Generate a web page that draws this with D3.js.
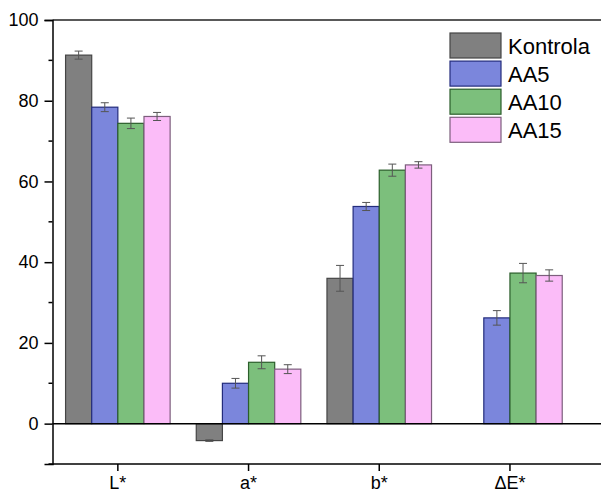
<!DOCTYPE html>
<html>
<head>
<meta charset="utf-8">
<script src="https://cdn.jsdelivr.net/npm/d3@7"></script>
<style>
  html, body { margin: 0; padding: 0; background: #fff; }
  svg { display: block; font-family: "Liberation Sans", Arial, sans-serif; }
</style>
</head>
<body>
<svg id="chart" width="601" height="494"></svg>
<script>
// Colour parameters (L*, a*, b*, ΔE*) for each sample
const categories = ["L*", "a*", "b*", "ΔE*"];
const seriesNames = ["Kontrola", "AA5", "AA10", "AA15"];

// Mean values per series, in category order (null = not measured)
const kontrola = [91.3, -4.2, 36.0, null];
const aa5      = [78.4, 10.0, 53.8, 26.2];
const aa10     = [74.4, 15.2, 62.8, 37.3];
const aa15     = [76.1, 13.5, 64.1, 36.7];

// Standard deviations per series
const kontrolaErr = [1.0, 0.2, 3.2, null];
const aa5Err      = [1.1, 1.2, 1.0, 1.8];
const aa10Err     = [1.3, 1.6, 1.5, 2.4];
const aa15Err     = [1.0, 1.1, 0.8, 1.4];

const yTicks = [0, 20, 40, 60, 80, 100];
const yMinorTicks = [-10, 10, 30, 50, 70, 90];

const fills   = ["#808080", "#7b86dc", "#7cbf7c", "#fbbcf8"];
const strokes = ["#454545", "#232c7c", "#2b5e2b", "#7d5f7d"];

const values = [kontrola, aa5, aa10, aa15];
const errors = [kontrolaErr, aa5Err, aa10Err, aa15Err];

const svg = d3.select("#chart");

const plotLeft = 52.5, plotTop = 20, plotBottom = 464, plotRight = 610;
const step = 130.7;

const x0 = d3.scaleBand().domain(categories)
  .range([plotLeft, plotLeft + step * categories.length]).padding(0);
const x1 = d3.scaleBand().domain(seriesNames)
  .range([0, x0.bandwidth()]).paddingInner(0).paddingOuter(0.5);
const y = d3.scaleLinear().domain([-10, 100]).range([plotBottom, plotTop]);

// Flatten into bar records
const bars = [];
seriesNames.forEach((s, si) => {
  categories.forEach((c, ci) => {
    const v = values[si][ci];
    if (v === null) return;
    bars.push({ s, si, c, v, e: errors[si][ci] });
  });
});

// Bars
svg.append("g").selectAll("rect").data(bars).join("rect")
  .attr("x", d => x0(d.c) + x1(d.s))
  .attr("y", d => y(Math.max(0, d.v)))
  .attr("width", x1.bandwidth())
  .attr("height", d => Math.abs(y(d.v) - y(0)))
  .attr("fill", d => fills[d.si])
  .attr("stroke", d => strokes[d.si])
  .attr("stroke-width", 1.2);

// Error bars
const eg = svg.append("g").attr("stroke", "#555").attr("stroke-width", 1);
bars.forEach(d => {
  const cx = x0(d.c) + x1(d.s) + x1.bandwidth() / 2;
  const y1 = y(d.v + d.e), y2 = y(d.v - d.e);
  eg.append("line").attr("x1", cx).attr("x2", cx).attr("y1", y1).attr("y2", y2);
  eg.append("line").attr("x1", cx - 4).attr("x2", cx + 4).attr("y1", y1).attr("y2", y1);
  eg.append("line").attr("x1", cx - 4).attr("x2", cx + 4).attr("y1", y2).attr("y2", y2);
});

// Zero line
svg.append("line")
  .attr("x1", plotLeft).attr("x2", plotRight)
  .attr("y1", y(0)).attr("y2", y(0))
  .attr("stroke", "#000").attr("stroke-width", 1.5);

// Frame top border
svg.append("line").attr("x1", plotLeft).attr("x2", plotRight)
  .attr("y1", plotTop).attr("y2", plotTop)
  .attr("stroke", "#222").attr("stroke-width", 1.5);

// Y axis
const yAxis = d3.axisLeft(y).tickValues(yTicks).tickSize(8).tickPadding(6);
const yg = svg.append("g").attr("transform", `translate(${plotLeft},0)`).call(yAxis);
yg.select(".domain").attr("stroke", "#000").attr("stroke-width", 1.5);
yg.selectAll(".tick line").attr("stroke", "#000").attr("stroke-width", 1.5);
yg.selectAll(".tick text").attr("font-size", 18).attr("fill", "#000")
  .attr("font-family", "Liberation Sans, Arial, sans-serif");

// Minor y ticks
svg.append("g").selectAll("line").data(yMinorTicks).join("line")
  .attr("x1", plotLeft - 4).attr("x2", plotLeft)
  .attr("y1", d => y(d)).attr("y2", d => y(d))
  .attr("stroke", "#000").attr("stroke-width", 1.5);

// X axis
const xAxis = d3.axisBottom(x0).tickSize(7).tickPadding(5);
const xg = svg.append("g").attr("transform", `translate(0,${plotBottom})`).call(xAxis);
xg.select(".domain").remove();
xg.append("line").attr("x1", plotLeft).attr("x2", plotRight).attr("y1", 0).attr("y2", 0)
  .attr("stroke", "#000").attr("stroke-width", 1.5);
xg.selectAll(".tick line").attr("stroke", "#000").attr("stroke-width", 1.5);
xg.selectAll(".tick text").attr("font-size", 18).attr("fill", "#000")
  .attr("font-family", "Liberation Sans, Arial, sans-serif");

// Legend
const legend = svg.append("g").attr("transform", "translate(450,33)");
seriesNames.forEach((s, i) => {
  const g = legend.append("g").attr("transform", `translate(0,${i * 28.1})`);
  g.append("rect").attr("width", 51).attr("height", 25)
    .attr("fill", fills[i]).attr("stroke", strokes[i]).attr("stroke-width", 1.2);
  g.append("text").attr("x", 58).attr("y", 21)
    .attr("font-size", 22).attr("fill", "#000").text(s);
});
</script>
</body>
</html>
